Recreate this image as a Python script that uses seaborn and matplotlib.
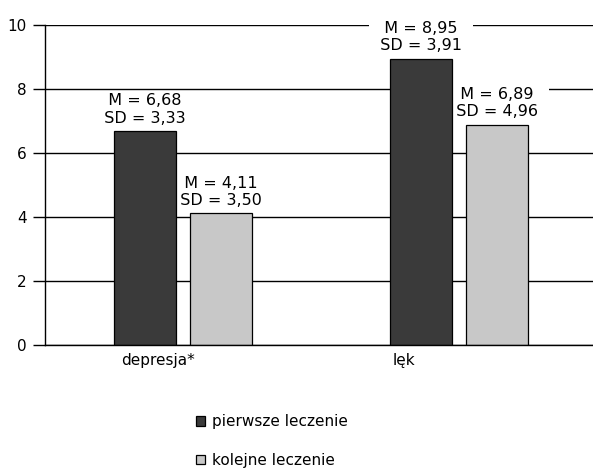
import matplotlib
matplotlib.use("Agg")
import matplotlib.pyplot as plt
import seaborn as sns
import pandas as pd

categories = ["depresja*", "lęk"]
series = ["pierwsze leczenie", "kolejne leczenie"]
mean_pierwsze = [6.68, 8.95]
mean_kolejne = [4.11, 6.89]
sd_pierwsze = [3.33, 3.91]
sd_kolejne = [3.50, 4.96]
yticks = [0, 2, 4, 6, 8, 10]

df = pd.DataFrame({
    "kategoria": categories * 2,
    "grupa": [series[0]] * 2 + [series[1]] * 2,
    "M": mean_pierwsze + mean_kolejne,
    "SD": sd_pierwsze + sd_kolejne,
})

sns.set_style("white")
plt.rcParams["font.family"] = ["DejaVu Sans"]
plt.rcParams["text.color"] = "black"
plt.rcParams["xtick.color"] = "black"
plt.rcParams["ytick.color"] = "black"

fig = plt.figure(figsize=(5.93, 4.69), dpi=100)
ax = fig.add_axes([45 / 593, 1 - 345 / 469, 552 / 593, 320 / 469])

sns.barplot(data=df, x="kategoria", y="M", hue="grupa", order=categories,
            hue_order=series, palette=["#3a3a3a", "#c8c8c8"], width=0.55,
            gap=0.18, edgecolor="black", linewidth=0.9, errorbar=None,
            legend=True, ax=ax, zorder=3)

ax.set_ylim(0, 10)
ax.set_xlim(-0.5, 1.5)
ax.set_yticks(yticks)
ax.set_yticklabels([str(t) for t in yticks], fontsize=11, color="black")
ax.yaxis.grid(True, color="black", linewidth=1.0, zorder=0)
ax.set_axisbelow(True)
for s in ["top", "right"]:
    ax.spines[s].set_visible(False)
ax.spines["bottom"].set_color("black")
ax.spines["bottom"].set_linewidth(1.0)
ax.spines["bottom"].set_zorder(4)
ax.spines["left"].set_color("black")
ax.spines["left"].set_linewidth(1.0)
ax.tick_params(axis="y", which="major", direction="out", length=9, width=1.0,
               color="black", left=True, pad=4, labelcolor="black")
ax.tick_params(axis="x", length=0, pad=6, labelcolor="black")
ax.set_xticks([-0.09, 0.80])
ax.set_xticklabels(categories, fontsize=11, color="black")
ax.set_xlabel("")
ax.set_ylabel("")

sd_lists = [sd_pierwsze, sd_kolejne]
for cont, sds in zip(ax.containers, sd_lists):
    for bar, sd in zip(cont, sds):
        m = bar.get_height()
        txt = ("  M = " + f"{m:.2f}".replace(".", ",") + "  \n  SD = "
               + f"{sd:.2f}".replace(".", ",") + "  ")
        ax.annotate(txt, (bar.get_x() + bar.get_width() / 2, m),
                    xytext=(0, 4), textcoords="offset points", ha="center",
                    va="bottom", fontsize=11.5, linespacing=1.2, zorder=2,
                    color="black",
                    bbox=dict(boxstyle="square,pad=0.05", fc="white", ec="none"))

handles, labels = ax.get_legend_handles_labels()
ax.get_legend().remove()
fig.legend(handles, labels, loc="center", bbox_to_anchor=(272 / 593, 1 - 441 / 469),
           ncol=1, frameon=False, fontsize=11, handlelength=0.6, handleheight=0.6,
           handletextpad=0.5, labelspacing=1.55, labelcolor="black")

fig.savefig("out.png", dpi=100)
